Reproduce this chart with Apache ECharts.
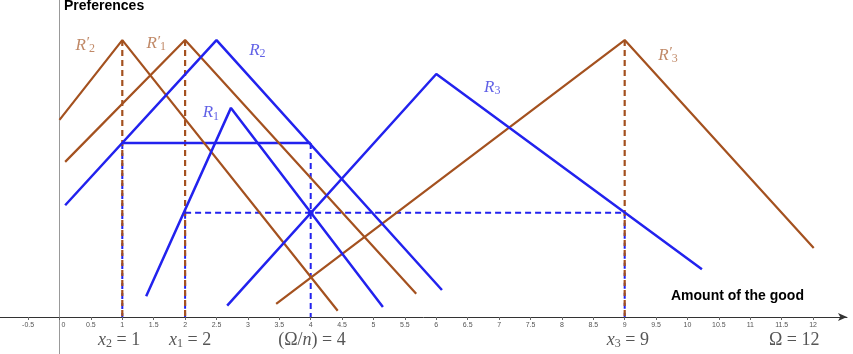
<!DOCTYPE html>
<html><head><meta charset="utf-8">
<script src="https://cdn.jsdelivr.net/npm/echarts@6/dist/echarts.min.js"></script>
<style>html,body{margin:0;padding:0;background:#fff}#c{width:853px;height:354px}</style>
</head><body><div id="c"></div>
<script>
// ---- data ----
const xTicks = [-0.5,0,0.5,1,1.5,2,2.5,3,3.5,4,4.5,5,5.5,6,6.5,7,7.5,8,8.5,9,9.5,10,10.5,11,11.5,12];
const R2prime = [[0,3.14],[1,4.41],[4.43,0.10]];
const R1prime = [[0.09,2.47],[2,4.41],[5.68,0.37]];
const R2 = [[0.09,1.78],[2.5,4.41],[6.09,0.43]];
const R1 = [[1.38,0.33],[2.73,3.33],[5.15,0.16]];
const R3 = [[2.67,0.18],[6.0,3.87],[10.23,0.76]];
const R3prime = [[3.45,0.21],[9,4.41],[12.01,1.10]];
const hSolid = [[1,2.77],[4,2.77]];
const hDash = [[2,1.66],[9,1.66]];
const blueVertTops = [[1,2.77],[2,1.66],[4,2.77],[9,1.66]];
const brownVertTops = [[1,4.41],[2,4.41],[9,4.41]];
const eqPoint = [[4,1.66]];
const curveLabels = [
  {name:'R′2', x:0.41, y:4.33, kind:'brown', txt:'{i|R}{p|′}{s|2}'},
  {name:'R′1', x:1.54, y:4.35, kind:'brown', txt:'{i|R}{p|′}{s|1}'},
  {name:'R2',  x:3.15, y:4.25, kind:'blue',  txt:'{i|R}{s|2}'},
  {name:'R1',  x:2.41, y:3.25, kind:'blue',  txt:'{i|R}{s|1}'},
  {name:'R3',  x:6.89, y:3.65, kind:'blue',  txt:'{i|R}{s|3}'},
  {name:'R′3', x:9.69, y:4.17, kind:'brown', txt:'{i|R}{p|′}{s|3}'}
];
const bottomLabels = [
  {x:0.95, txt:'{i|x}{s|2}{n| = 1}'},
  {x:2.08, txt:'{i|x}{s|1}{n| = 2}'},
  {x:4.02, txt:'{n|(Ω/}{i|n}{n|) = 4}'},
  {x:9.05, txt:'{i|x}{s|3}{n| = 9}'},
  {x:11.70, txt:'{n|Ω = 12}'}
];

const BROWN = '#A4511F';
const BLUE = '#2222EE';
const SERIF = '"Liberation Serif","DejaVu Serif",serif';
const SANS = '"Liberation Sans",Arial,sans-serif';

function richFor(color, size){
  return {
    i:{fontFamily:SERIF, fontStyle:'italic', fontSize:size, color:color, lineHeight:size+2, verticalAlign:'middle'},
    n:{fontFamily:SERIF, fontSize:size, color:color, lineHeight:size+2, verticalAlign:'middle'},
    p:{fontFamily:SERIF, fontStyle:'italic', fontSize:size-2, color:color, lineHeight:size+2, verticalAlign:'top'},
    s:{fontFamily:SERIF, fontSize:Math.round(size*0.68), color:color, lineHeight:size+2, verticalAlign:'bottom', padding:[8,0,0,0]}
  };
}

const series = [];
function poly(data, color, width, dashed, z){
  series.push({type:'line', data:data, showSymbol:false, symbol:'none', silent:true, z:z||2, clip:false,
    lineStyle:{color:color, width:width, type: dashed ? [6,4] : 'solid'}, animation:false});
}
blueVertTops.forEach(p => poly([[p[0],p[1]],[p[0],0]], BLUE, 2, true, 2));
brownVertTops.forEach(p => poly([[p[0],p[1]],[p[0],0]], BROWN, 2.2, true, 3));
poly(hDash, BLUE, 2, true, 3);
poly(hSolid, BLUE, 2.5, false, 4);
poly(R2prime, BROWN, 2.2, false, 4);
poly(R1prime, BROWN, 2.2, false, 4);
poly(R3prime, BROWN, 2.2, false, 4);
poly(R2, BLUE, 2.5, false, 5);
poly(R1, BLUE, 2.5, false, 5);
poly(R3, BLUE, 2.5, false, 5);
series.push({type:'scatter', data:eqPoint, symbolSize:6, itemStyle:{color:BLUE}, z:6, animation:false});

curveLabels.forEach(c => {
  const col = c.kind==='brown' ? '#B06A40' : '#3838E0';
  series.push({type:'scatter', data:[[c.x,c.y]], symbolSize:0, silent:true, z:7, animation:false, clip:false,
    label:{show:true, position:'inside', formatter:c.txt, rich:richFor(col,17)}});
});
bottomLabels.forEach(b => {
  series.push({type:'scatter', data:[[b.x,-0.37]], symbolSize:0, silent:true, z:7, animation:false, clip:false,
    label:{show:true, position:'inside', formatter:b.txt, rich:richFor('#2a2a2a',18)}});
});

const XMIN = -0.9475, XMAX = 12.54;
const option = {
  animation:false,
  backgroundColor:'#ffffff',
  title:[
    {text:'Preferences', left:64, top:-1, padding:0, textStyle:{fontFamily:SANS, fontWeight:'bold', fontSize:14, color:'#000'}},
    {text:'Amount of the good', left:671, top:289, padding:0, textStyle:{fontFamily:SANS, fontWeight:'bold', fontSize:14, color:'#000'}}
  ],
  grid:[
    {left:0, right:6, top:0, bottom:37, containLabel:false, outerBoundsMode:'none'},
    {left:0, right:6, top:0, bottom:0, containLabel:false, outerBoundsMode:'none'}
  ],
  xAxis:[
    {type:'value', gridIndex:0, min:XMIN, max:XMAX, position:'bottom',
      axisLine:{onZero:false, lineStyle:{color:'#333', width:1}, symbol:['none','arrow'], symbolSize:[6,9]},
      axisTick:{show:true, customValues:xTicks, length:3, inside:false, lineStyle:{color:'#666'}},
      axisLabel:{show:true, customValues:xTicks, fontSize:7, color:'#555', margin:5, fontFamily:SANS,
        formatter: v => v === 0 ? '{z|0}' : String(v),
        rich:{z:{fontSize:7, color:'#555', fontFamily:SANS, padding:[0,0,0,8]}}},
      splitLine:{show:false}},
    {type:'value', gridIndex:1, min:XMIN, max:XMAX, show:false}
  ],
  yAxis:[
    {type:'value', gridIndex:0, min:0, max:5.048, show:false, splitLine:{show:false}},
    {type:'value', gridIndex:1, min:-0.589, max:5.048,
      axisLine:{show:true, onZero:true, lineStyle:{color:'#999', width:1}},
      axisTick:{show:false}, axisLabel:{show:false}, splitLine:{show:false}}
  ],
  series:series
};
const chart = echarts.init(document.getElementById('c'), null, {renderer:'canvas'});
chart.setOption(option);
</script></body></html>
